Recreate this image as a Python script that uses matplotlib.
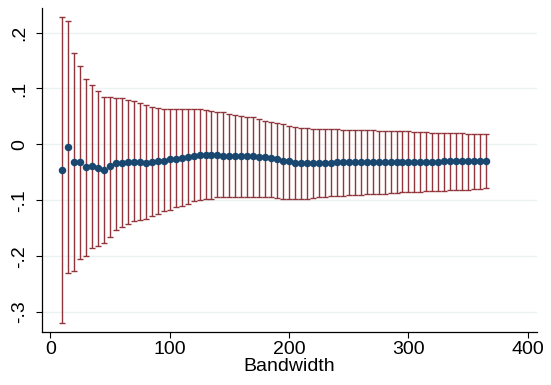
import matplotlib
matplotlib.use("Agg")
import matplotlib.pyplot as plt
import numpy as np

plt.rcParams["font.family"] = ["Liberation Sans", "DejaVu Sans"]

NAVY = "#1a476f"
MAROON = "#90353b"
GRID = "#eaf2f3"

bandwidth = [10, 15, 20, 25, 30, 35, 40, 45, 50, 55, 60, 65, 70, 75, 80, 85,
             90, 95, 100, 105, 110, 115, 120, 125, 130, 135, 140, 145, 150,
             155, 160, 165, 170, 175, 180, 185, 190, 195, 200, 205, 210, 215,
             220, 225, 230, 235, 240, 245, 250, 255, 260, 265, 270, 275, 280,
             285, 290, 295, 300, 305, 310, 315, 320, 325, 330, 335, 340, 345,
             350, 355, 360, 365]

estimate = [-0.046, -0.005, -0.032, -0.032, -0.041, -0.038, -0.042, -0.046,
            -0.039, -0.034, -0.033, -0.032, -0.032, -0.032, -0.033, -0.032,
            -0.030, -0.029, -0.027, -0.026, -0.024, -0.022, -0.020, -0.019,
            -0.019, -0.019, -0.019, -0.020, -0.020, -0.020, -0.020, -0.020,
            -0.021, -0.022, -0.023, -0.025, -0.027, -0.029, -0.030,
            -0.033, -0.033, -0.033, -0.033, -0.033, -0.033, -0.033,
            -0.032, -0.032, -0.032, -0.032, -0.032, -0.032, -0.032, -0.032,
            -0.032, -0.032, -0.031, -0.031, -0.031, -0.031, -0.031, -0.031,
            -0.031, -0.031, -0.030, -0.030, -0.030, -0.030, -0.030, -0.030,
            -0.030, -0.030]

ci_upper = [0.228, 0.220, 0.164, 0.141, 0.117, 0.107, 0.095, 0.085, 0.085,
            0.083, 0.082, 0.079, 0.078, 0.074, 0.070, 0.066, 0.065, 0.064,
            0.064, 0.064, 0.063, 0.063, 0.064, 0.063, 0.061, 0.059, 0.058,
            0.057, 0.055, 0.053, 0.051, 0.049, 0.048, 0.045, 0.042, 0.040,
            0.038, 0.036, 0.033,
            0.031, 0.030, 0.029, 0.028, 0.028, 0.027, 0.027, 0.027, 0.026,
            0.026, 0.026, 0.025, 0.025, 0.025, 0.024, 0.024, 0.024, 0.023,
            0.023, 0.023, 0.022, 0.022, 0.022, 0.021, 0.021, 0.021, 0.020,
            0.020, 0.020, 0.019, 0.019, 0.019, 0.019]

ci_lower = [-0.320, -0.230, -0.226, -0.205, -0.199, -0.185, -0.181, -0.177,
            -0.165, -0.154, -0.148, -0.142, -0.138, -0.135, -0.133, -0.128,
            -0.125, -0.120, -0.117, -0.113, -0.110, -0.106, -0.102, -0.100,
            -0.098, -0.097, -0.095, -0.095, -0.094, -0.094, -0.094, -0.094,
            -0.094, -0.094, -0.095, -0.095, -0.096, -0.097, -0.098,
            -0.098, -0.098, -0.097, -0.096, -0.095, -0.094, -0.093, -0.092,
            -0.092, -0.091, -0.090, -0.090, -0.089, -0.089, -0.088, -0.088,
            -0.087, -0.087, -0.086, -0.086, -0.085, -0.085, -0.084, -0.084,
            -0.083, -0.083, -0.082, -0.082, -0.081, -0.081, -0.080, -0.080,
            -0.079]

ytick_vals = [0.2, 0.1, 0.0, -0.1, -0.2, -0.3]
ytick_labels = [".2", ".1", "0", "-.1", "-.2", "-.3"]
xtick_vals = [0, 100, 200, 300, 400]

x = np.array(bandwidth)
est = np.array(estimate)
yerr = [est - np.array(ci_lower), np.array(ci_upper) - est]

fig = plt.figure(figsize=(5.51, 3.85), dpi=100)
ax = fig.add_axes([0.0757, 0.1384, 0.8983, 0.8400])

for v in ytick_vals:
    ax.axhline(v, color=GRID, lw=1.0, zorder=0)

# confidence intervals as capped spikes, point estimates on top
ax.errorbar(x, est, yerr=yerr, fmt="none", ecolor=MAROON, elinewidth=1.0,
            capsize=2.4, capthick=1.0, zorder=2)
ax.plot(x, est, "o", color=NAVY, markersize=5.4, markeredgewidth=0, zorder=3)

ax.set_xlim(-7.2, 407.4)
ax.set_ylim(-0.3352, 0.2433)
ax.set_xticks(xtick_vals)
ax.set_yticks(ytick_vals)
ax.set_yticklabels(ytick_labels, rotation=90, va="center")
ax.tick_params(axis="both", labelsize=14, length=4, width=0.8, color="black")
ax.tick_params(axis="x", pad=3)
ax.tick_params(axis="y", pad=6)
ax.set_xlabel("Bandwidth", fontsize=14, labelpad=0)

for side in ("top", "right"):
    ax.spines[side].set_visible(False)
for side in ("left", "bottom"):
    ax.spines[side].set_linewidth(0.9)

fig.savefig("out.png", dpi=100, facecolor="white")
